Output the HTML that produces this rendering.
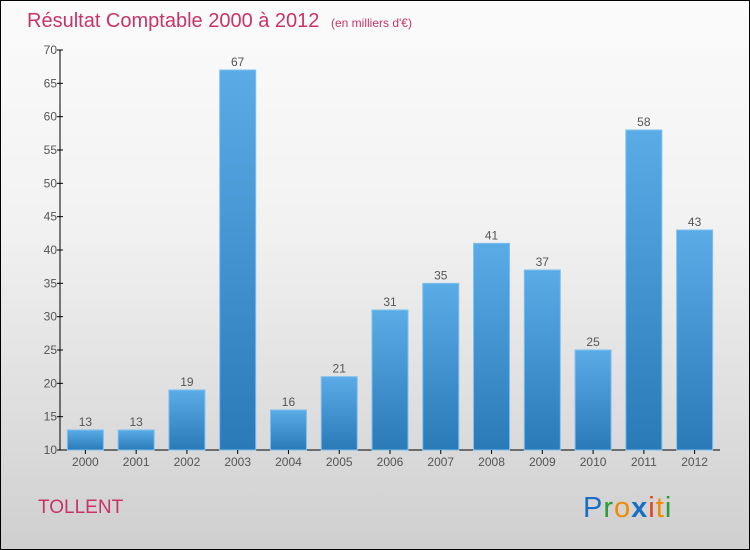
<!DOCTYPE html>
<html><head><meta charset="utf-8"><style>
body{margin:0}
#c{width:748px;height:548px;border:1px solid #000;background:linear-gradient(#fbfbfb,#f2f2f2 40%,#cfcfcf);position:relative;overflow:hidden;font-family:"Liberation Sans",sans-serif}
</style></head><body>
<div id="c">
<svg id="s" width="748" height="548" xmlns="http://www.w3.org/2000/svg">
<defs><linearGradient id="g" x1="0" y1="0" x2="0" y2="1"><stop offset="0" stop-color="#5aabe6"/><stop offset="1" stop-color="#2a7ab8"/></linearGradient></defs>
<text x="26" y="26" font-size="20" fill="#c8336a">Résultat Comptable 2000 à 2012 <tspan font-size="12" dx="6">(en milliers d'€)</tspan></text>
<text x="37" y="512" font-size="19" fill="#c8336a">TOLLENT</text>
<text x="582" y="516" font-size="29" letter-spacing="1"><tspan fill="#1a6fc4">P</tspan><tspan fill="#2a9a3a">r</tspan><tspan fill="#f08a00">o</tspan><tspan fill="#1a6fc4" font-weight="bold">x</tspan><tspan fill="#e8401b">i</tspan><tspan fill="#f08a00">t</tspan><tspan fill="#2a9a3a">i</tspan></text>
<g id="plot"></g>
</svg></div>
<script>
const categories=["2000","2001","2002","2003","2004","2005","2006","2007","2008","2009","2010","2011","2012"];
const values=[13,13,19,67,16,21,31,35,41,37,25,58,43];
const yTicks=[10,15,20,25,30,35,40,45,50,55,60,65,70];
const NS="http://www.w3.org/2000/svg";
const g=document.getElementById('plot');
const x0=59,x1=719,yMin=10,yMax=70,py0=449,py1=49;
const y=v=>py0-(v-yMin)/(yMax-yMin)*(py0-py1);
const band=(x1-x0)/categories.length;
const bx=i=>x0+band*i+band/2;
function mk(t,a,txt){const e=document.createElementNS(NS,t);for(const k in a)e.setAttribute(k,a[k]);if(txt!==undefined)e.textContent=txt;g.appendChild(e);return e;}
let e=mk('line',{x1:x0,y1:py1,x2:x0,y2:py0,stroke:'#000'});


e=mk('line',{x1:x0,y1:py0,x2:x1,y2:py0,stroke:'#000'});


yTicks.forEach(t=>{
 e=mk('line',{x1:x0-3,y1:y(t),x2:x0+3,y2:y(t),stroke:'#000'});
 
 
 e=mk('text',{x:x0-3,y:y(t)+4,'font-size':12,'text-anchor':'end',fill:'#555'},t);
 
 
});
categories.forEach((c,i)=>{
 const w=36,v=values[i];
 e=mk('rect',{x:bx(i)-w/2,y:y(v),width:w,height:py0-y(v),fill:'url(#g)',stroke:'#7cc0f0','stroke-width':1});
 
 
 e=mk('text',{x:bx(i),y:y(v)-4,'font-size':12,'text-anchor':'middle',fill:'#555'},v);
 
 
 e=mk('line',{x1:bx(i),y1:py0,x2:bx(i),y2:py0+4,stroke:'#000'});
 
 
 e=mk('text',{x:bx(i),y:py0+16,'font-size':12,'text-anchor':'middle',fill:'#555'},c);
 
 
});
</script>
</body></html>
